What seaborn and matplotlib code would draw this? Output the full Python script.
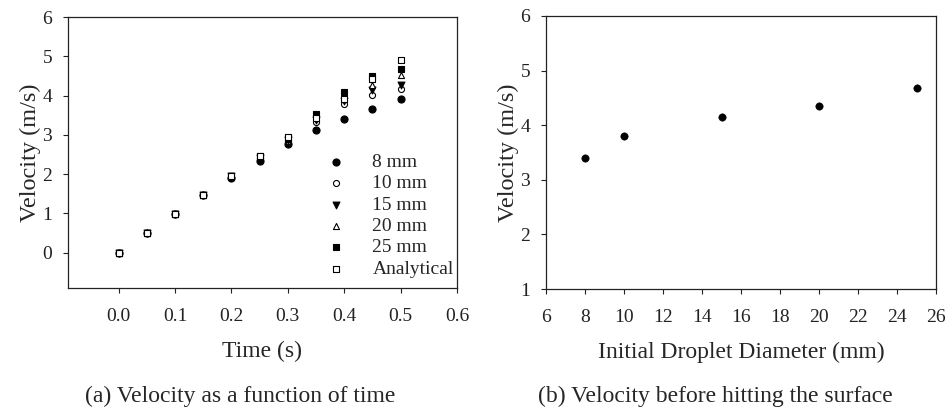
import matplotlib
matplotlib.use("Agg")
import matplotlib.pyplot as plt
import seaborn as sns
import pandas as pd

# datos
time = [0.0, 0.05, 0.10, 0.15, 0.20, 0.25, 0.30, 0.35, 0.40, 0.45, 0.50]
v_8mm = [0.0, 0.49, 0.98, 1.46, 1.90, 2.34, 2.77, 3.12, 3.40, 3.67, 3.92]
v_10mm = [0.0, 0.49, 0.98, 1.47, 1.93, 2.40, 2.84, 3.33, 3.78, 4.01, 4.16]
v_15mm = [0.0, 0.49, 0.98, 1.47, 1.94, 2.41, 2.87, 3.38, 3.86, 4.15, 4.28]
v_20mm = [0.0, 0.49, 0.98, 1.47, 1.95, 2.43, 2.90, 3.44, 3.96, 4.28, 4.53]
v_25mm = [0.0, 0.49, 0.98, 1.47, 1.96, 2.45, 2.93, 3.52, 4.08, 4.51, 4.68]
v_analytical = [0.0, 0.49, 0.98, 1.47, 1.96, 2.45, 2.94, 3.43, 3.92, 4.41, 4.91]

series_labels = ["8 mm", "10 mm", "15 mm", "20 mm", "25 mm", "Analytical"]

diameters = [8, 10, 15, 20, 25]
impact_velocity = [3.40, 3.80, 4.15, 4.35, 4.68]

sns.set_style("ticks")
plt.rcParams['font.family'] = ['Liberation Serif', 'DejaVu Serif']
plt.rcParams['axes.edgecolor'] = '#222222'
plt.rcParams['axes.linewidth'] = 0.9
plt.rcParams['xtick.direction'] = 'out'
plt.rcParams['ytick.direction'] = 'out'
plt.rcParams['xtick.major.size'] = 3.5
plt.rcParams['ytick.major.size'] = 3.5
plt.rcParams['xtick.color'] = '#222222'
plt.rcParams['ytick.color'] = '#222222'

fig = plt.figure(figsize=(9.5, 4.09), dpi=100)
ax1 = fig.add_axes([68/950, 1 - 288/409, (457-68)/950, (288-17)/409])
ax2 = fig.add_axes([546/950, 1 - 289/409, (936-546)/950, (289-16)/409])

##############################
# (a) velocidad vs tiempo
##############################
styles = [
    ("o", "black", 26),
    ("o", "white", 19),
    ("v", "black", 24),
    ("^", "white", 19),
    ("s", "black", 20),
    ("s", "white", 20),
]
all_series = [v_8mm, v_10mm, v_15mm, v_20mm, v_25mm, v_analytical]

for vals, label, (mk, fc, sz) in zip(all_series, series_labels, styles):
    df = pd.DataFrame({"t": time, "v": vals})
    sns.scatterplot(data=df, x="t", y="v", ax=ax1, marker=mk, s=sz,
                    color=fc, edgecolor="black", linewidth=0.8, label=label)

ax1.set_xlim(-0.09, 0.6)
ax1.set_ylim(-0.9, 6)
ax1.set_xticks([0.0, 0.1, 0.2, 0.3, 0.4, 0.5, 0.6])
ax1.set_xticklabels(["0.0", "0.1", "0.2", "0.3", "0.4", "0.5", "0.6"])
ax1.set_yticks([0, 1, 2, 3, 4, 5, 6])
ax1.set_xlabel("Time (s)", fontsize=17, labelpad=11)
ax1.set_ylabel("Velocity (m/s)", fontsize=17.5, labelpad=1)
ax1.tick_params(axis="both", labelsize=14)
ax1.tick_params(axis="x", pad=11)
ax1.tick_params(axis="y", pad=8)
leg = ax1.legend(loc="upper left", bbox_to_anchor=(0.62, 0.525), frameon=False,
                 fontsize=14, handletextpad=0.85, labelspacing=0.19,
                 borderaxespad=0, handlelength=2.0)

##############################
# (b) velocidad antes del impacto
##############################
df_b = pd.DataFrame({"d": diameters, "v": impact_velocity})
sns.scatterplot(data=df_b, x="d", y="v", ax=ax2, marker="o", s=28,
                color="black", edgecolor="black")
ax2.set_xlim(6, 26)
ax2.set_ylim(1, 6)
ax2.set_xticks(range(6, 27, 2))
ax2.set_yticks([1, 2, 3, 4, 5, 6])
ax2.set_xlabel("Initial Droplet Diameter (mm)", fontsize=17, labelpad=11)
ax2.set_ylabel("Velocity (m/s)", fontsize=17.5, labelpad=1)
ax2.tick_params(axis="both", labelsize=14)
ax2.tick_params(axis="x", pad=11)
ax2.tick_params(axis="y", pad=8)

for ax in (ax1, ax2):
    for side in ["top", "right", "left", "bottom"]:
        ax.spines[side].set_visible(True)

fig.text(240/950, 1 - 396/409, "(a) Velocity as a function of time",
         ha="center", va="center", fontsize=17)
fig.text(715/950, 1 - 396/409, "(b) Velocity before hitting the surface",
         ha="center", va="center", fontsize=17)

plt.savefig("out.png", dpi=100)
